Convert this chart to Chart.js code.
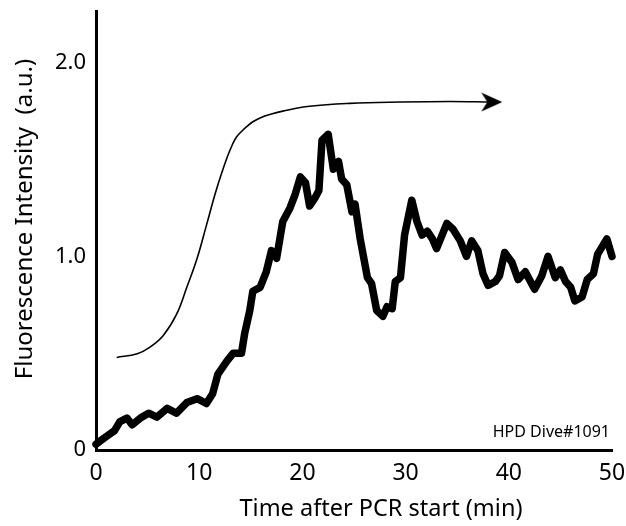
<!DOCTYPE html>
<html>
<head>
<meta charset="utf-8">
<script src="https://cdn.jsdelivr.net/npm/chart.js@4"></script>
<style>
html,body{margin:0;padding:0;background:#fff;}
#wrap{width:626px;height:526px;}
</style>
</head>
<body>
<div id="wrap"><canvas id="c" width="626" height="526"></canvas></div>
<script>
// ---- data ----
const times = [0.0,0.5,1.0,1.8,2.3,3.0,3.5,4.3,5.1,5.9,6.9,7.8,8.8,9.8,10.7,11.3,11.8,12.7,13.3,14.1,14.4,14.9,15.2,15.9,16.5,17.0,17.5,18.1,18.8,19.3,19.8,20.3,20.7,21.2,21.6,21.9,22.5,23.0,23.5,23.8,24.3,24.8,25.1,25.6,26.3,26.7,27.2,27.8,28.2,28.7,29.0,29.5,29.9,30.6,31.1,31.6,32.1,32.6,33.0,34.0,34.6,35.3,35.9,36.4,37.0,37.5,38.0,38.7,39.1,39.6,40.3,40.9,41.6,42.1,42.5,43.2,43.8,44.5,45.0,45.5,46.0,46.4,47.1,47.6,48.2,48.6,49.5,50.0];
const fluorescence = [0.03,0.05,0.07,0.10,0.145,0.165,0.13,0.165,0.19,0.17,0.215,0.19,0.245,0.265,0.24,0.29,0.39,0.46,0.50,0.50,0.60,0.72,0.82,0.84,0.92,1.03,0.99,1.18,1.25,1.32,1.41,1.38,1.26,1.30,1.34,1.60,1.63,1.45,1.49,1.40,1.37,1.23,1.27,1.09,0.89,0.86,0.72,0.69,0.74,0.73,0.87,0.89,1.11,1.29,1.18,1.11,1.13,1.09,1.04,1.17,1.14,1.08,1.00,1.08,1.03,0.91,0.85,0.87,0.90,1.02,0.97,0.88,0.92,0.87,0.83,0.90,1.00,0.89,0.93,0.87,0.84,0.77,0.79,0.88,0.91,1.01,1.09,1.00];

const sigTimes  = [2.0,4.0,5.2,6.5,7.8,8.8,9.8,10.7,11.7,12.7,13.2,13.6,14.1,14.6,15.2,15.9,17.0,18.1,20.7,24.6,29.5,34.3,38.3];
const sigValues = [0.478,0.497,0.53,0.59,0.70,0.84,0.99,1.16,1.35,1.51,1.575,1.615,1.645,1.67,1.695,1.715,1.735,1.75,1.775,1.79,1.797,1.80,1.797];

const xTicks = [0,10,20,30,40,50];
const yTicks = [0,1,2];
const yTickLabels = ['0','1.0','2.0'];

const xTitle = 'Time after PCR start (min)';
const yTitle = 'Fluorescence Intensity  (a.u.)';
const note = 'HPD Dive#1091';

// ---- arrow head image for the schematic curve ----
const arrow = document.createElement('canvas');
arrow.width = 22; arrow.height = 22;
(function(){
  const g = arrow.getContext('2d');
  g.fillStyle = '#000';
  g.beginPath();
  g.moveTo(22,11); g.lineTo(1,1.5); g.lineTo(7,11); g.lineTo(1,20.5); g.closePath();
  g.fill();
})();

const FONT = '"Noto Sans", "DejaVu Sans", sans-serif';

const textPlugin = {
  id: 'axisTexts',
  afterDraw(chart) {
    const ctx = chart.ctx;
    ctx.save();
    ctx.fillStyle = '#000';
    ctx.textBaseline = 'middle';
    // x title
    ctx.font = '23.5px ' + FONT;
    ctx.textAlign = 'center';
    ctx.fillText(xTitle, 381, 509);
    // y title
    ctx.font = '24px ' + FONT;
    ctx.save();
    ctx.translate(25, 219);
    ctx.rotate(-Math.PI/2);
    ctx.fillText(yTitle, 0, 0);
    ctx.restore();
    // note
    ctx.font = '16px ' + FONT;
    ctx.textAlign = 'right';
    ctx.fillText(note, 610, 432);
    ctx.restore();
  }
};

const lastIdx = sigTimes.length - 1;
const noPad = s => { s.paddingTop = 0; s.paddingBottom = 0; s.paddingLeft = 0; s.paddingRight = 0; };

new Chart(document.getElementById('c'), {
  type: 'line',
  data: {
    datasets: [
      {
        data: times.map((t,i)=>({x:t, y:fluorescence[i]})),
        borderColor: '#000',
        borderWidth: 7.5,
        pointRadius: 0,
        tension: 0,
        borderJoinStyle: 'round',
        borderCapStyle: 'round',
        clip: 6
      },
      {
        data: sigTimes.map((t,i)=>({x:t, y:sigValues[i]})),
        borderColor: '#000',
        borderWidth: 1.6,
        tension: 0.4,
        pointStyle: ctx => ctx.dataIndex === lastIdx ? arrow : 'circle',
        pointRadius: ctx => ctx.dataIndex === lastIdx ? 11 : 0,
        pointBackgroundColor: '#000',
        pointBorderWidth: 0
      }
    ]
  },
  options: {
    responsive: false,
    animation: false,
    events: [],
    layout: { padding: { left: 0, right: 14, top: 8, bottom: 0 } },
    plugins: { legend: { display: false }, tooltip: { enabled: false } },
    scales: {
      x: {
        type: 'linear',
        min: 0, max: 50,
        afterBuildTicks: s => { s.ticks = xTicks.map(v=>({value:v})); },
        afterFit: s => { s.height = 76; noPad(s); },
        grid: { display: false, drawTicks: false },
        border: { display: true, color: '#000', width: 3 },
        ticks: { color: '#000', font: { family: FONT, size: 23 }, padding: 10, maxRotation: 0 }
      },
      y: {
        min: 0, max: 2.267,
        afterBuildTicks: s => { s.ticks = yTicks.map(v=>({value:v})); },
        afterFit: s => { s.width = 96; noPad(s); },
        grid: { display: false, drawTicks: false },
        border: { display: true, color: '#000', width: 3 },
        ticks: { color: '#000', font: { family: FONT, size: 22 }, padding: 10,
                 callback: (v, i) => yTickLabels[yTicks.indexOf(v)] }
      }
    }
  },
  plugins: [textPlugin]
});
</script>
</body>
</html>
